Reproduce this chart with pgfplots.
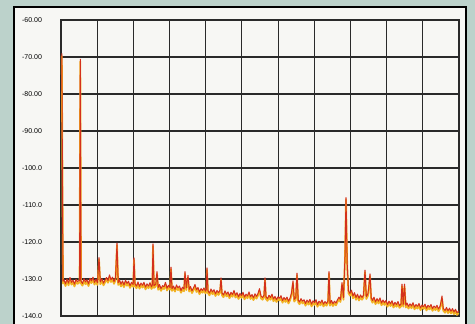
\documentclass[border=0pt]{standalone}
\usepackage{pgfplots}
\pgfplotsset{compat=1.18}
\usepackage{pgfplotstable}
\usepackage{fontspec}
\setmainfont{Liberation Sans}
\definecolor{bgteal}{HTML}{BCD2CB}
\definecolor{paper}{HTML}{F7F7F4}
\definecolor{gridc}{HTML}{2A2A2A}
\definecolor{specred}{HTML}{D4301C}
\definecolor{specyel}{HTML}{F2B222}
\pgfplotstableread{
px db
61.8 -69.0
63.0 -130.6
64 -130.2
65.5 -131.3
67 -130.0
68.5 -131.1
70 -129.6
71.5 -130.9
73 -130.3
74.5 -131.4
76 -130.1
77.5 -130.7
79.6 -130.3
80.3 -70.6
81.0 -130.6
82.5 -131.2
84 -129.9
85.5 -130.8
87 -130.2
88.5 -131.3
90 -129.8
91.5 -130.5
93 -129.5
94.5 -130.9
96 -130.1
97.5 -131.0
99 -124.2
100.3 -130.8
102 -129.9
103.5 -131.1
105 -130.3
106.5 -129.6
108 -130.4
109.5 -128.9
111 -130.2
112.5 -129.5
114 -130.7
115.5 -129.8
117 -120.3
118.2 -131.0
119.5 -130.2
121 -131.4
122.5 -130.5
124 -131.6
125.5 -130.3
127 -131.2
128.5 -130.6
130 -131.8
131.5 -130.9
133.2 -131.5
134 -124.3
135 -131.3
136.5 -131.9
138 -130.8
139.5 -132.0
141 -131.1
142.5 -131.7
144 -130.9
145.5 -132.2
147 -131.3
148.5 -131.9
150 -131.0
151.5 -132.1
152.3 -131.6
153 -120.5
154 -131.8
155.8 -131.4
157 -128.0
158.2 -132.3
159.5 -131.5
161 -132.6
162.5 -131.8
164 -132.1
165.5 -130.9
167 -132.5
168.5 -131.7
170 -132.3
171 -126.8
172 -132.6
173.5 -131.9
175 -132.8
176.5 -131.6
178 -132.4
179.5 -131.9
181 -133.1
182.5 -132.2
184 -132.7
185 -128.0
186.3 -132.4
188 -129.0
189.2 -132.8
190.5 -132.0
192 -133.2
193.5 -132.4
195 -131.5
196.5 -132.9
198 -132.3
199.5 -133.5
201 -132.6
202.5 -133.1
204 -132.4
205.5 -133.3
206.3 -132.8
207 -127.0
208 -133.2
209.5 -133.8
211 -132.7
212.5 -133.5
214 -132.9
215.5 -134.0
217 -133.1
218.5 -133.7
220 -133.0
221 -129.7
222 -133.8
223.5 -134.3
225 -133.2
226.5 -134.1
228 -133.5
229.5 -134.6
231 -133.6
232.5 -134.2
234 -133.1
235.5 -134.4
237 -133.7
238.5 -134.8
240 -133.9
241.5 -134.5
243 -133.6
244.5 -134.9
246 -134.1
247.5 -134.6
249 -133.5
250.5 -134.8
252 -134.2
253.5 -135.1
255 -134.0
256.5 -134.7
258 -133.9
259.5 -132.6
261 -134.6
262.5 -135.0
264 -134.4
265 -129.7
266 -134.8
267.5 -135.3
269 -134.4
270.5 -135.0
272 -134.1
273.5 -135.4
275 -134.7
276.5 -135.6
278 -134.8
279.5 -135.2
281 -134.5
282.5 -135.8
284 -135.0
285.5 -135.6
287 -134.9
288.5 -136.0
290 -135.2
291.5 -133.8
293 -130.5
294.2 -135.5
295.8 -135.0
297 -128.4
298.2 -135.7
299.5 -136.2
301 -135.3
302.5 -136.0
304 -135.6
305.5 -136.6
307 -135.7
308.5 -136.3
310 -135.5
311.5 -136.8
313 -135.9
314.5 -136.4
316 -135.6
317.5 -136.9
319 -136.0
320.5 -136.5
322 -135.7
323.5 -136.8
325 -136.1
326.5 -136.6
328 -135.9
329 -128.0
330 -136.6
331.5 -135.8
333 -136.7
334.5 -136.0
336 -136.5
337.5 -135.6
339 -134.9
340.5 -135.6
342 -131.0
343.5 -135.0
345 -124.0
346 -108.0
347.2 -126.0
348.5 -133.2
350 -133.9
351.5 -133.0
353 -134.6
354.5 -133.7
356 -135.0
357.5 -134.1
359 -135.2
360.5 -134.3
362 -135.0
363.5 -134.4
365 -127.6
366.3 -134.8
368 -133.9
369 -131.5
370 -128.6
371.2 -135.0
372.5 -135.8
374 -134.9
375.5 -136.2
377 -135.3
378.5 -136.0
380 -135.1
381.5 -136.5
383 -135.7
384.5 -136.4
386 -135.8
387.5 -136.9
389 -136.0
390.5 -136.7
392 -135.9
393.5 -137.1
395 -136.3
396.5 -136.9
398 -136.1
399.5 -137.2
401 -136.8
402 -131.4
403.2 -136.9
404.5 -131.4
405.8 -137.1
407 -136.5
408.5 -137.4
410 -136.7
411.5 -137.3
413 -136.4
414.5 -137.6
416 -136.9
417.5 -137.4
419 -136.6
420.5 -137.8
422 -137.0
423.5 -137.5
425 -136.8
426.5 -137.9
428 -137.1
429.5 -137.6
431 -136.9
432.5 -138.0
434 -137.3
435.5 -137.8
437 -137.1
438.5 -138.1
440 -137.4
441 -136.2
442 -134.6
443.2 -137.9
445 -138.5
446.5 -137.7
448 -138.6
449.5 -137.9
451 -138.7
452.5 -138.0
454 -138.9
455.5 -138.2
457 -139.1
459 -138.6
}\spectrum
\begin{document}
\begin{tikzpicture}[x=1pt,y=1pt]
\useasboundingbox (0,0) rectangle (475,324);
\clip (0,0) rectangle (475,324);
\fill[bgteal] (0,0) rectangle (475,324);
\filldraw[fill=paper, draw=black, line width=1.1pt] (14,-10) rectangle (466,317);
\begin{axis}[
  at={(61pt,8pt)}, anchor=south west,
  width=398pt, height=296pt, scale only axis,
  xmin=61, xmax=459, ymin=-140, ymax=-60,
  xtick={61,97.18,133.36,169.55,205.73,241.91,278.09,314.27,350.45,386.64,422.82,459},
  xticklabels={},
  ytick={-140,-130,-120,-110,-100,-90,-80,-70,-60},
  yticklabels={-140.0,-130.0,-120.0,-110.0,-100.0,-90.00,-80.00,-70.00,-60.00},
  yticklabel style={font=\fontsize{7}{8}\selectfont, anchor=east, xshift=-15.5pt},
  major tick length=0pt,
  grid=major,
  major grid style={gridc, line width=1.1pt},
  axis line style={gridc, line width=1.1pt},
  axis background/.style={fill=paper},
  clip=true,
]
\addplot[specyel, line width=1.8pt, line join=round, no markers] table[x=px, y expr=\thisrow{db}-0.6] {\spectrum};
\addplot[specred, line width=1.0pt, line join=round, no markers] table[x=px, y=db] {\spectrum};
\end{axis}
\end{tikzpicture}
\end{document}
